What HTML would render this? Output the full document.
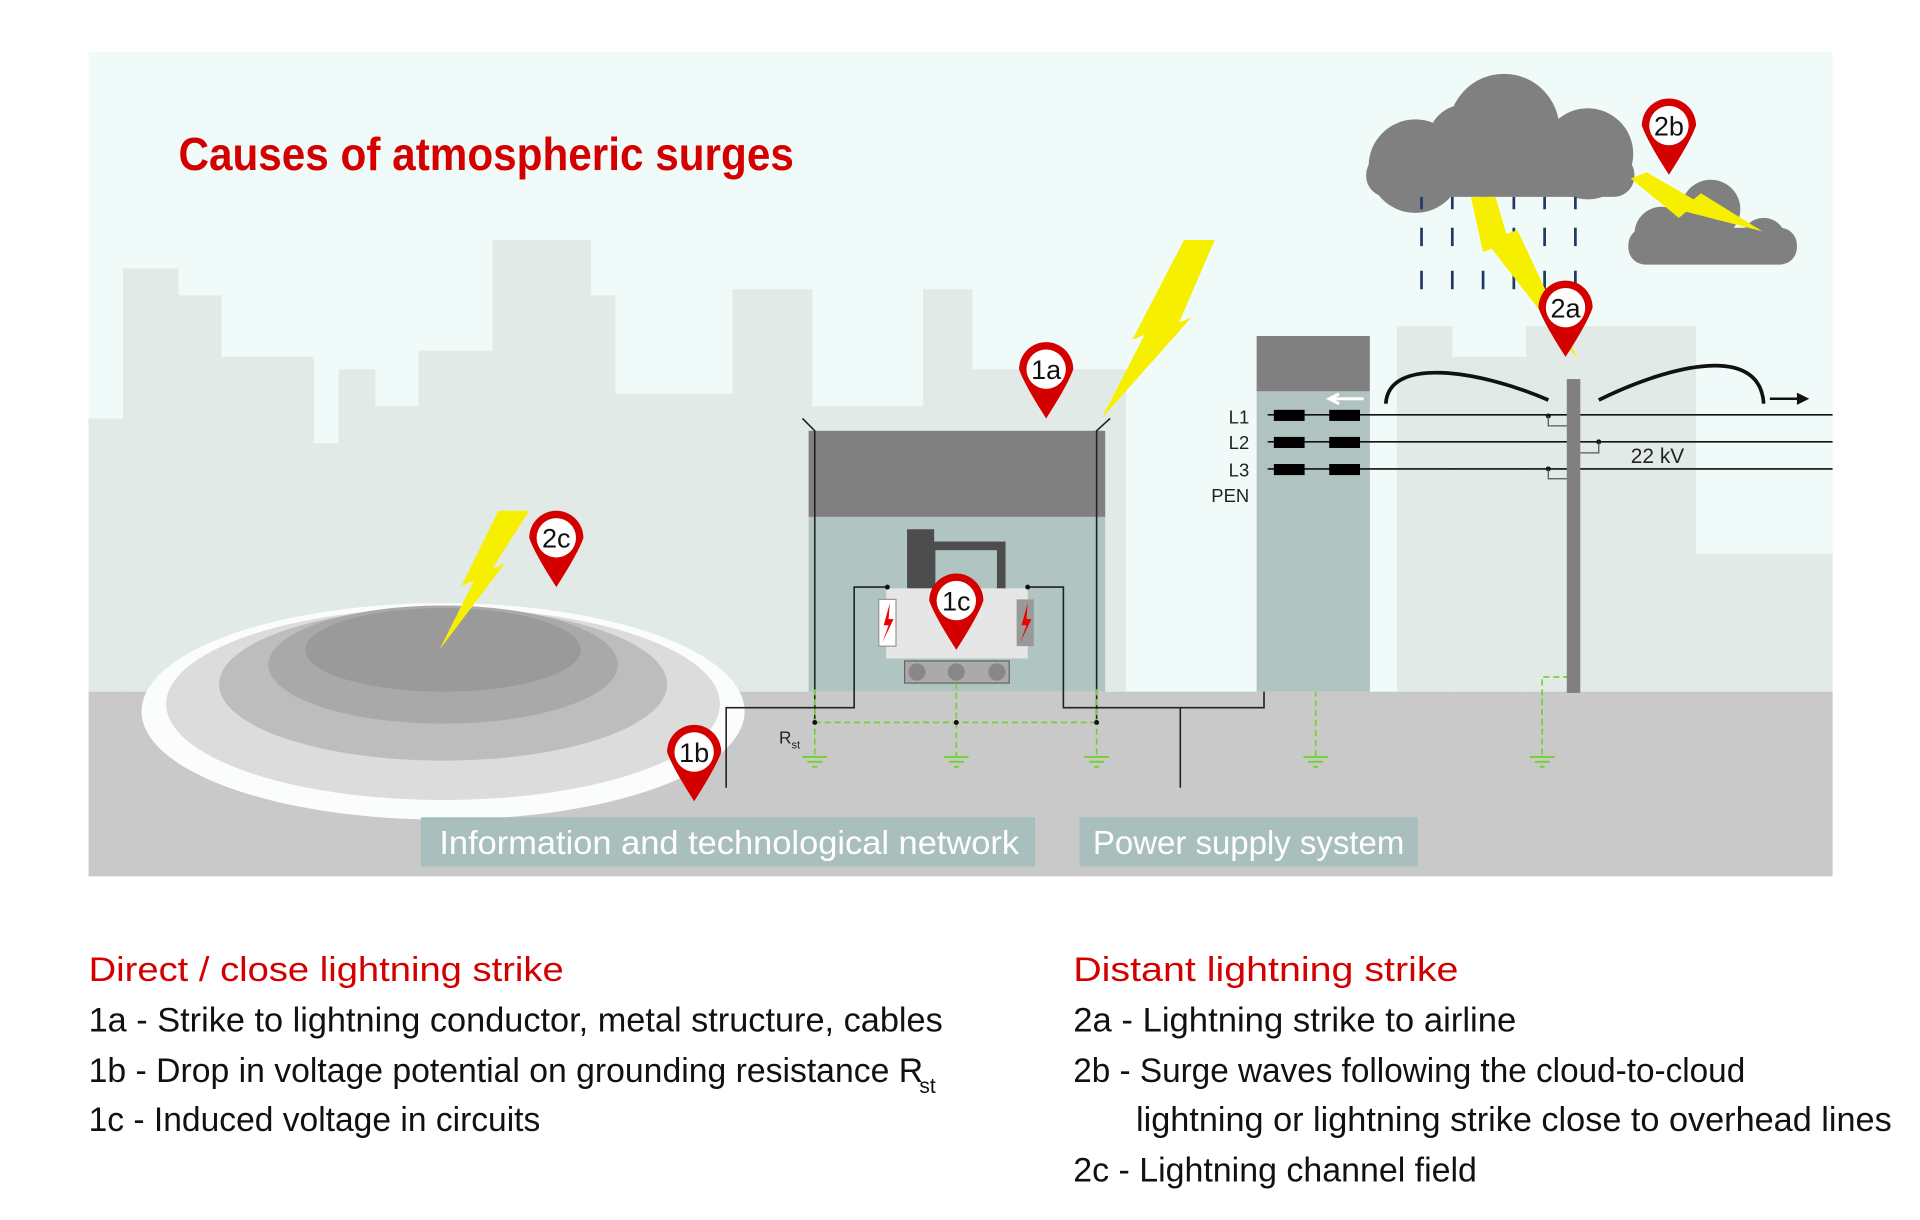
<!DOCTYPE html>
<html><head><meta charset="utf-8"><style>html,body{margin:0;padding:0;background:#fff}svg{display:block}</style></head><body>
<svg width="1920" height="1220" viewBox="0 0 1560 991.25" preserveAspectRatio="none" xmlns="http://www.w3.org/2000/svg" font-family="Liberation Sans, sans-serif">
<rect x="72" y="42" width="1417" height="670" fill="#f0faf9"/>
<g fill="#e2eae8">
<rect x="100" y="218" width="45" height="344"/><rect x="145" y="240" width="35" height="322"/><rect x="180" y="290" width="75" height="272"/><rect x="255" y="360" width="20" height="202"/><rect x="275" y="300" width="30" height="262"/><rect x="305" y="330" width="35" height="232"/><rect x="340" y="285" width="60" height="277"/><rect x="400" y="195" width="80" height="367"/><rect x="480" y="240" width="20" height="322"/><rect x="500" y="320" width="95" height="242"/><rect x="595" y="235" width="65" height="327"/><rect x="660" y="330" width="90" height="232"/><rect x="750" y="235" width="40" height="327"/><rect x="790" y="300" width="125" height="262"/><rect x="72" y="340" width="30" height="222"/>
<rect x="1135" y="265" width="45" height="297"/><rect x="1180" y="290" width="60" height="272"/><rect x="1240" y="265" width="138" height="297"/><rect x="1378" y="450" width="111" height="112"/>
</g>
<rect x="72" y="562" width="1417" height="150" fill="#c9c9c9"/>
<ellipse cx="360" cy="578" rx="245" ry="88" fill="#fbfdfd"/>
<ellipse cx="360" cy="572" rx="225" ry="78" fill="#dcdcdc"/>
<ellipse cx="360" cy="556" rx="182" ry="62" fill="#bdbdbd"/>
<ellipse cx="360" cy="540" rx="142" ry="48" fill="#a9a9a9"/>
<ellipse cx="360" cy="528" rx="112" ry="34" fill="#9a9a9a"/>
<polygon points="405,415 430,415 400,462 410,458 357,528 385,472 375,476" fill="#f6f000"/>
<rect x="657" y="350" width="241" height="70" fill="#808080"/>
<rect x="657" y="420" width="241" height="142" fill="#b0c4c2"/>
<g stroke="#222" stroke-width="1.3" fill="none">
<path d="M652,340 L662,350 L662,587"/><path d="M902,340 L891,350 L891,587"/>
<path d="M590,640 V575 H694 V477 H721"/><path d="M835,477 H864 V575 H1027 V337 H1035"/>
<path d="M959,575 V640"/>
</g>
<polygon points="962,195 987,195 958,262 968,258 895,340 930,272 920,276" fill="#f6f000"/>
<rect x="737" y="430" width="22" height="55" fill="#4d4d4d"/>
<rect x="752" y="440" width="65" height="45" fill="#4d4d4d"/><rect x="760" y="447" width="50" height="32" fill="#b0c4c2"/>
<rect x="720" y="478" width="115" height="57" fill="#e6e6e6"/>
<rect x="714" y="487" width="14" height="38" fill="#fff" stroke="#999"/><rect x="826" y="487" width="14" height="38" fill="#999"/>
<polygon points="723,490 718,508 722,508 717,522 726,503 722,503" fill="#e00"/><polygon points="835,490 830,508 834,508 829,522 838,503 834,503" fill="#e00"/>
<rect x="735" y="537" width="85" height="18" fill="#aaa" stroke="#666"/>
<circle cx="745" cy="546" r="7" fill="#888"/><circle cx="777" cy="546" r="7" fill="#888"/><circle cx="810" cy="546" r="7" fill="#888"/>
<g stroke="#6ed22a" stroke-width="1.3" stroke-dasharray="5,3" fill="none">
<path d="M662,560 V615"/><path d="M777,555 V615"/><path d="M891,560 V615"/><path d="M662,587 H891"/>
<path d="M1069,337 V615"/><path d="M1030,401 H1069"/><path d="M1275,550 H1253 V615"/>
</g>
<g stroke="#6ed22a" stroke-width="1.5">
<path d="M652,615 h20 M656,619 h12 M660,623 h4"/><path d="M767,615 h20 M771,619 h12 M775,623 h4"/><path d="M881,615 h20 M885,619 h12 M889,623 h4"/><path d="M1059,615 h20 M1063,619 h12 M1067,623 h4"/><path d="M1243,615 h20 M1247,619 h12 M1251,623 h4"/>
</g>
<g fill="#111"><circle cx="662" cy="587" r="2"/><circle cx="777" cy="587" r="2"/><circle cx="891" cy="587" r="2"/><circle cx="721" cy="477" r="2"/><circle cx="835" cy="477" r="2"/><circle cx="1069" cy="401" r="2"/><circle cx="1275" cy="550" r="2"/><circle cx="1258" cy="338" r="2"/><circle cx="1299" cy="359" r="2"/><circle cx="1258" cy="381" r="2"/></g>
<text x="633" y="604" font-size="14" fill="#222">R<tspan font-size="9" dy="4">st</tspan></text>
<rect x="1021" y="273" width="92" height="45" fill="#808080"/>
<rect x="1021" y="318" width="92" height="244" fill="#b0c3c1"/>
<path d="M1108,324 H1082 M1088,320 L1080,324 L1088,328" stroke="#fff" stroke-width="2.5" fill="none"/>
<g stroke="#111" stroke-width="1.3"><path d="M1030,337 H1489"/><path d="M1030,359 H1489"/><path d="M1030,381 H1489"/></g>
<g fill="#000"><rect x="1035" y="333" width="25" height="9"/><rect x="1080" y="333" width="25" height="9"/><rect x="1035" y="355" width="25" height="9"/><rect x="1080" y="355" width="25" height="9"/><rect x="1035" y="377" width="25" height="9"/><rect x="1080" y="377" width="25" height="9"/></g>
<g font-size="15" fill="#222" text-anchor="end"><text x="1015" y="344">L1</text><text x="1015" y="365">L2</text><text x="1015" y="387">L3</text><text x="1015" y="408">PEN</text></g>
<rect x="1273" y="308" width="11" height="255" fill="#808080"/>
<g stroke="#555" stroke-width="1" fill="none"><path d="M1258,338 V346 H1273"/><path d="M1299,359 V368 H1284"/><path d="M1258,381 V389 H1273"/></g>
<text x="1325" y="376" font-size="17" fill="#222">22 kV</text>
<g stroke="#111" stroke-width="3" fill="none"><path d="M1126,328 C1128,290 1200,300 1258,325"/><path d="M1299,325 C1360,295 1430,280 1433,328"/></g>
<path d="M1438,324 H1462" stroke="#111" stroke-width="2"/><polygon points="1470,324 1460,319 1460,329" fill="#111"/>
<g fill="#808080"><circle cx="1222" cy="105" r="45"/><circle cx="1150" cy="135" r="38"/><circle cx="1290" cy="125" r="37"/><circle cx="1190" cy="115" r="30"/><rect x="1110" y="125" width="218" height="35" rx="17"/>
<circle cx="1390" cy="170" r="24"/><circle cx="1350" cy="190" r="22"/><circle cx="1433" cy="195" r="18"/><rect x="1323" y="185" width="137" height="30" rx="14"/></g>
<g stroke="#1f3864" stroke-width="2.2"><path d="M1155,160v10M1180,160v10M1205,160v10M1230,160v10M1255,160v10M1280,160v10M1155,185v15M1180,185v15M1205,185v15M1230,185v15M1255,185v15M1280,185v15M1155,220v15M1180,220v15M1205,220v15M1230,220v15M1255,220v15M1280,220v15"/></g>
<polygon points="1195,160 1215,160 1224,190 1233,187 1282,292 1212,202 1205,205" fill="#f6f000"/>
<polygon points="1325,145 1338,140 1376,162 1382,157 1432,188 1370,172 1364,177" fill="#f6f000"/>
<g font-size="22" text-anchor="middle" fill="#111">
<g transform="translate(850,300)"><path d="M-22,0 A22,22 0 1 1 22,0 Q18,12 0,40 Q-18,12 -22,0Z" fill="#d40000"/><circle r="16" fill="#fff"/><text y="8">1a</text></g>
<g transform="translate(452,437)"><path d="M-22,0 A22,22 0 1 1 22,0 Q18,12 0,40 Q-18,12 -22,0Z" fill="#d40000"/><circle r="16" fill="#fff"/><text y="8">2c</text></g>
<g transform="translate(777,488)"><path d="M-22,0 A22,22 0 1 1 22,0 Q18,12 0,40 Q-18,12 -22,0Z" fill="#d40000"/><circle r="16" fill="#fff"/><text y="8">1c</text></g>
<g transform="translate(564,611)"><path d="M-22,0 A22,22 0 1 1 22,0 Q18,12 0,40 Q-18,12 -22,0Z" fill="#d40000"/><circle r="16" fill="#fff"/><text y="8">1b</text></g>
<g transform="translate(1272,250)"><path d="M-22,0 A22,22 0 1 1 22,0 Q18,12 0,40 Q-18,12 -22,0Z" fill="#d40000"/><circle r="16" fill="#fff"/><text y="8">2a</text></g>
<g transform="translate(1356,102)"><path d="M-22,0 A22,22 0 1 1 22,0 Q18,12 0,40 Q-18,12 -22,0Z" fill="#d40000"/><circle r="16" fill="#fff"/><text y="8">2b</text></g>
</g>
<rect x="342" y="664" width="499" height="40" fill="#a9bfbd"/><rect x="877" y="664" width="275" height="40" fill="#a9bfbd"/>
<text x="357" y="694" font-size="27" fill="#fff" textLength="471" lengthAdjust="spacingAndGlyphs">Information and technological network</text>
<text x="888" y="694" font-size="27" fill="#fff" textLength="253" lengthAdjust="spacingAndGlyphs">Power supply system</text>
<text x="145" y="138" font-size="38" font-weight="bold" fill="#d40000" textLength="500" lengthAdjust="spacingAndGlyphs">Causes of atmospheric surges</text>
<g font-size="28">
<text x="72" y="797" fill="#d40000" textLength="386" lengthAdjust="spacingAndGlyphs">Direct / close lightning strike</text>
<text x="72" y="838" fill="#111" textLength="694" lengthAdjust="spacingAndGlyphs">1a - Strike to lightning conductor, metal structure, cables</text>
<text x="72" y="879" fill="#111" textLength="678" lengthAdjust="spacingAndGlyphs">1b - Drop in voltage potential on grounding resistance R</text>
<text x="747" y="888" fill="#111" font-size="17">st</text>
<text x="72" y="919" fill="#111" textLength="367" lengthAdjust="spacingAndGlyphs">1c - Induced voltage in circuits</text>
<text x="872" y="797" fill="#d40000" textLength="313" lengthAdjust="spacingAndGlyphs">Distant lightning strike</text>
<text x="872" y="838" fill="#111" textLength="360" lengthAdjust="spacingAndGlyphs">2a - Lightning strike to airline</text>
<text x="872" y="879" fill="#111" textLength="546" lengthAdjust="spacingAndGlyphs">2b - Surge waves following the cloud-to-cloud</text>
<text x="923" y="919" fill="#111" textLength="614" lengthAdjust="spacingAndGlyphs">lightning or lightning strike close to overhead lines</text>
<text x="872" y="960" fill="#111" textLength="328" lengthAdjust="spacingAndGlyphs">2c - Lightning channel field</text>
</g>
</svg>
</body></html>
